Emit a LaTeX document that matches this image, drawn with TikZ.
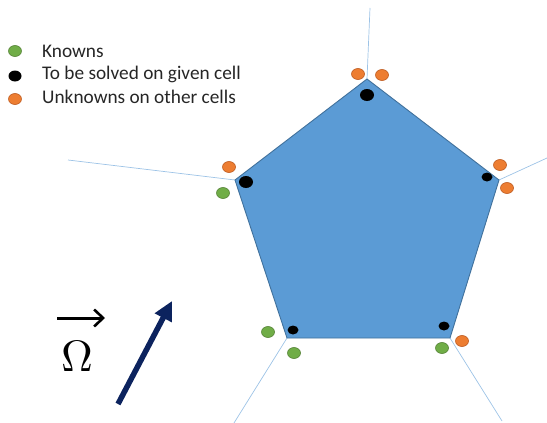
\documentclass[tikz,border=0pt]{standalone}
\usepackage{fontspec}
\usepackage{graphicx}
\setmainfont{Carlito}
\usetikzlibrary{arrows.meta,shapes.geometric}
\definecolor{cellfill}{RGB}{91,155,213}
\definecolor{celledge}{RGB}{65,113,156}
\definecolor{meshline}{RGB}{157,195,230}
\definecolor{kgreen}{RGB}{112,173,71}
\definecolor{kgreenedge}{RGB}{84,130,53}
\definecolor{korange}{RGB}{237,125,49}
\definecolor{korangeedge}{RGB}{190,90,30}
\definecolor{navy}{RGB}{12,35,94}
\tikzset{
  known/.style={ellipse,draw=kgreenedge,fill=kgreen,line width=0.6pt,minimum width=13pt,minimum height=11pt,inner sep=0pt},
  other/.style={ellipse,draw=korangeedge,fill=korange,line width=0.6pt,minimum width=13pt,minimum height=11pt,inner sep=0pt},
  solved/.style={ellipse,fill=black,minimum width=14pt,minimum height=12pt,inner sep=0pt},
  solvedsmall/.style={ellipse,fill=black,minimum width=11pt,minimum height=9pt,inner sep=0pt},
  mesh/.style={draw=meshline,line width=0.7pt},
  legendtext/.style={anchor=west,font=\fontsize{19.3}{22}\selectfont,inner sep=0pt,text=black!85}
}
\begin{document}
\begin{tikzpicture}[x=1pt,y=-1pt]
\useasboundingbox (0,0) rectangle (547,423);
% vertices
\coordinate (vt) at (367,79);
\coordinate (vr) at (499,180);
\coordinate (vbr) at (450,338);
\coordinate (vbl) at (287,338);
\coordinate (vl) at (235,180);
% mesh line ends
\coordinate (et) at (370,8);
\coordinate (er) at (547,158);
\coordinate (ebr) at (502,421);
\coordinate (ebl) at (234,423);
\coordinate (el) at (68,160);
\draw[mesh] (vt) -- (et);
\draw[mesh] (vr) -- (er);
\draw[mesh] (vbr) -- (ebr);
\draw[mesh] (vbl) -- (ebl);
\draw[mesh] (vl) -- (el);
\draw[fill=cellfill,draw=celledge,line width=0.9pt] (vt) -- (vr) -- (vbr) -- (vbl) -- (vl) -- cycle;
% dots
\node[other] (ot1) at (358,74) {};
\node[other] (ot2) at (382,75) {};
\node[solved] (st) at (367,95) {};
\node[other] (ol) at (229,167) {};
\node[known] (gl) at (223,193) {};
\node[solved] (sl) at (246,182) {};
\node[other] (or1) at (500,165) {};
\node[other] (or2) at (507,188) {};
\node[solvedsmall] (sr) at (487,177) {};
\node[known] (gbl1) at (268,332) {};
\node[known] (gbl2) at (294,353) {};
\node[solvedsmall] (sbl) at (293,330) {};
\node[solvedsmall] (sbr) at (444,326) {};
\node[known] (gbr) at (442,348) {};
\node[other] (obr) at (462,341) {};
% legend
\node[known] (lg) at (15,51) {};
\node[solved,minimum width=13pt,minimum height=11pt] (lb) at (15,76) {};
\node[other] (lo) at (15,99) {};
\node[legendtext] (tg) at (42,51) {Knowns};
\node[legendtext] (tb) at (42,74) {To be solved on given cell};
\node[legendtext] (to) at (42,97) {Unknowns on other cells};
% Omega
\node[inner sep=0pt] (om) at (77,356) {\scalebox{4.4}{$\Omega$}};
\coordinate (oa1) at (57,318);
\coordinate (oa2) at (105,318);
\draw[line width=3pt,-{Straight Barb[length=9pt,width=17pt,line width=2.6pt]}] (oa1) -- (oa2);
% flow arrow
\coordinate (fa1) at (118,404);
\coordinate (fa2) at (172,301);
\draw[navy,line width=5.5pt,-{Triangle[length=19pt,width=18pt]}] (fa1) -- (fa2);
\end{tikzpicture}
\end{document}
